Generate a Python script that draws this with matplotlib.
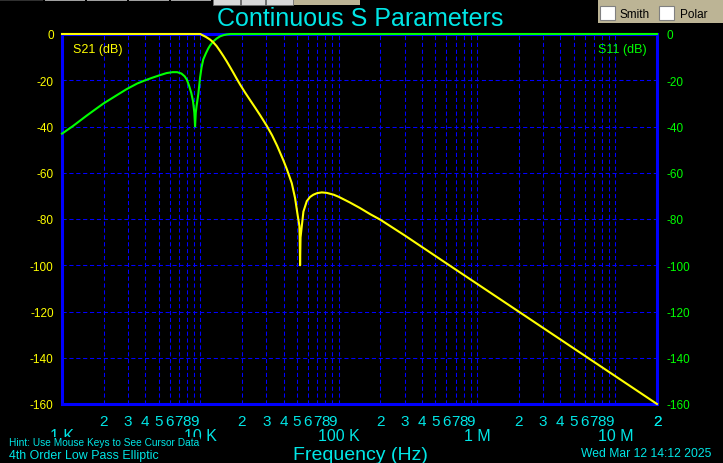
"""
S parameter plot: 4th order low pass elliptic (S21 / S11 in dB vs frequency)
"""
import matplotlib
matplotlib.use('Agg')
import matplotlib.pyplot as plt
from matplotlib.patches import Rectangle

# ---- data (frequency in kHz, level in dB) ----
s21_freq_k = [1, 5, 10.0, 10.2, 10.6, 11.0, 11.75, 12.4, 13.1, 13.9, 14.7, 15.5, 16.4,
              17.3, 18.3, 19.35, 21, 22.9, 25, 27.1, 30.2, 33, 36, 39.8, 42.1, 45.8,
              48.4, 50.3, 52.0, 52.3, 52.6, 53.0, 54.1, 55.6, 58.8, 62, 65.6, 70,
              75.5, 82, 92, 100, 120, 142, 170, 200, 300, 675, 1940, 6580, 20000]
s21_db = [0, 0, 0, -0.3, -0.8, -1.3, -2.4, -3.6, -5.2, -7.4, -9.6, -11.8, -14.3,
          -16.7, -19.3, -21.8, -25.2, -28.6, -32.0, -35.2, -39.7, -43.8, -48.5, -54.6, -58.3, -64.5,
          -71.0, -77.6, -83.0, -88, -100, -88, -83.2, -76.8, -72.3, -70.5, -69.5, -68.8,
          -68.5, -68.7, -69.5, -70.4, -72.8, -75.2, -78.0, -80.3, -87.1, -101.2, -119.5, -140.7, -160]

s11_freq_k = [1, 1.2, 1.5, 1.685, 2.0, 2.5, 2.94, 3.5, 4.0, 4.5, 5.1, 5.7, 6.3, 6.8,
              7.3, 7.7, 8.0, 8.3, 8.6, 8.85, 9.05, 9.16, 9.27, 9.4, 9.67, 9.95, 10.2,
              10.5, 11.0, 11.4, 11.75, 12.4, 13.1, 13.9, 14.7, 15.5, 16.5, 20000]
s11_db = [-43.1, -39.8, -35.4, -33.2, -30.0, -26.4, -23.8, -21.4, -20.0, -18.9, -17.8, -16.9, -16.5, -16.5,
          -17.1, -18.3, -19.8, -22.5, -25.5, -29.0, -34, -40, -34, -31, -26, -19, -14.5,
          -11, -8.2, -6.3, -5.0, -3.2, -2.0, -1.0, -0.5, -0.2, 0, 0]

y_ticks = [0, -20, -40, -60, -80, -100, -120, -140, -160]
decade_ticks = [1e3, 1e4, 1e5, 1e6, 1e7]
decade_labels = ['1 K', '10 K', '100 K', '1 M', '10 M']
minor_digits = [2, 3, 4, 5, 6, 7, 8, 9]

W, H = 723, 464
CYAN = '#00e6e6'
YELLOW = '#ffff00'
GREEN = '#00ff00'
BLUE = '#0000ff'
TAN = '#bcb495'
FONT = 'Liberation Sans'


def fx(x):
    return x / W


def fy(y):
    return 1 - y / H


def main():
    plt.rcParams['font.family'] = [FONT, 'DejaVu Sans']
    fig = plt.figure(figsize=(W / 100, H / 100), dpi=100, facecolor='black')

    # plot area in pixels: left 62, right 657, top 35, bottom 405
    ax = fig.add_axes([fx(62), fy(405), fx(657 - 62), (405 - 35) / H])
    ax.set_facecolor('black')
    ax.set_xscale('log')
    ax.set_xlim(1e3, 2e7)
    ax.set_ylim(-160, 0)

    # x ticks: decades (lower row) and digits 2..9 (upper row)
    minor_pos, minor_lab = [], []
    for d in decade_ticks:
        for m in minor_digits:
            if d * m <= 2e7:
                minor_pos.append(d * m)
                minor_lab.append(str(m))
    minor_pos.append(2e7)
    minor_lab.append('2')
    ax.set_xticks(decade_ticks)
    ax.set_xticklabels(decade_labels)
    ax.set_xticks(minor_pos, minor=True)
    ax.set_xticklabels(minor_lab, minor=True)
    ax.tick_params(axis='x', which='major', length=0, pad=17, labelsize=11.5, labelcolor=CYAN)
    ax.tick_params(axis='x', which='minor', length=0, pad=7, labelsize=11, labelcolor=CYAN)

    ax.set_yticks(y_ticks)
    ax.set_yticklabels([str(v) for v in y_ticks])
    ax.tick_params(axis='y', length=0, pad=6, labelsize=8.5, labelcolor=YELLOW)

    ax2 = ax.twinx()
    ax2.set_ylim(-160, 0)
    ax2.set_yticks(y_ticks)
    ax2.set_yticklabels([str(v) for v in y_ticks])
    ax2.tick_params(axis='y', length=0, pad=7, labelsize=8.5, labelcolor=GREEN)
    for sp in ax2.spines.values():
        sp.set_visible(False)

    ax.set_axisbelow(True)
    grid_kw = dict(color=BLUE, linewidth=0.75, linestyle=(0, (4, 2.6)))
    ax.grid(True, which='both', axis='x', **grid_kw)
    ax.grid(True, which='major', axis='y', **grid_kw)
    for sp in ax.spines.values():
        sp.set_color(BLUE)
        sp.set_linewidth(2.2)

    s21_freq = [f * 1e3 for f in s21_freq_k]
    s11_freq = [f * 1e3 for f in s11_freq_k]
    ax2.plot(s11_freq, s11_db, color=GREEN, linewidth=1.5, zorder=3, clip_on=False)
    ax2.plot(s21_freq, s21_db, color=YELLOW, linewidth=1.5, zorder=4, clip_on=False)
    ax2.set_xlim(1e3, 2e7)

    # texts around the plot
    fig.text(fx(360), fy(26), 'Continuous S Parameters', color=CYAN, fontsize=18,
             ha='center', va='baseline')
    fig.text(fx(73), fy(50), 'S21 (dB)', color=YELLOW, fontsize=9, ha='left', va='center')
    fig.text(fx(647), fy(50), 'S11 (dB)', color=GREEN, fontsize=9, ha='right', va='center')
    fig.text(fx(360), fy(460), 'Frequency (Hz)', color=CYAN, fontsize=14,
             ha='center', va='baseline')
    # the hint sits over the lower half of the "1 K" label, as in the original window
    fig.text(fx(9), fy(446.5), 'Hint: Use Mouse Keys to See Cursor Data', color=CYAN,
             fontsize=7.3, ha='left', va='baseline',
             bbox=dict(facecolor='black', edgecolor='none', pad=0.2), zorder=10)
    fig.text(fx(9), fy(459), '4th Order Low Pass Elliptic', color=CYAN, fontsize=8.9,
             ha='left', va='baseline')
    fig.text(fx(711), fy(457), 'Wed Mar 12 14:12 2025', color=CYAN, fontsize=8.7,
             ha='right', va='baseline')

    # window chrome: tan panel with Smith / Polar boxes, toolbar strip
    fig.add_artist(Rectangle((fx(598), fy(24)), fx(W - 598), 24 / H,
                             transform=fig.transFigure, facecolor=TAN, edgecolor='none'))
    fig.add_artist(Rectangle((fx(293), fy(6)), fx(67), 6 / H,
                             transform=fig.transFigure, facecolor=TAN, edgecolor='none'))
    for bx in (600, 659):
        fig.add_artist(Rectangle((fx(bx), fy(21)), fx(15), 14 / H,
                                 transform=fig.transFigure, facecolor='white',
                                 edgecolor='#808080', linewidth=0.8))
    fig.text(fx(620), fy(18.5), 'Smith', color='black', fontsize=8.5, ha='left', va='baseline')
    fig.text(fx(680), fy(18.5), 'Polar', color='black', fontsize=8.5, ha='left', va='baseline')
    fig.add_artist(Rectangle((fx(0), fy(2)), fx(43), 2 / H, transform=fig.transFigure,
                             facecolor='#303030', edgecolor='none'))
    for bx in (45, 87, 129, 171):
        fig.add_artist(Rectangle((fx(bx), fy(2)), fx(40), 2 / H, transform=fig.transFigure,
                                 facecolor='#a0a0a0', edgecolor='none'))
    for bx, bw in ((213, 27), (241, 24), (266, 27)):
        fig.add_artist(Rectangle((fx(bx), fy(6)), fx(bw), 6 / H, transform=fig.transFigure,
                                 facecolor='#d8d8d8', edgecolor='#707070', linewidth=0.6))

    fig.savefig('out.png', dpi=100, facecolor='black')
    plt.close(fig)


if __name__ == '__main__':
    main()
